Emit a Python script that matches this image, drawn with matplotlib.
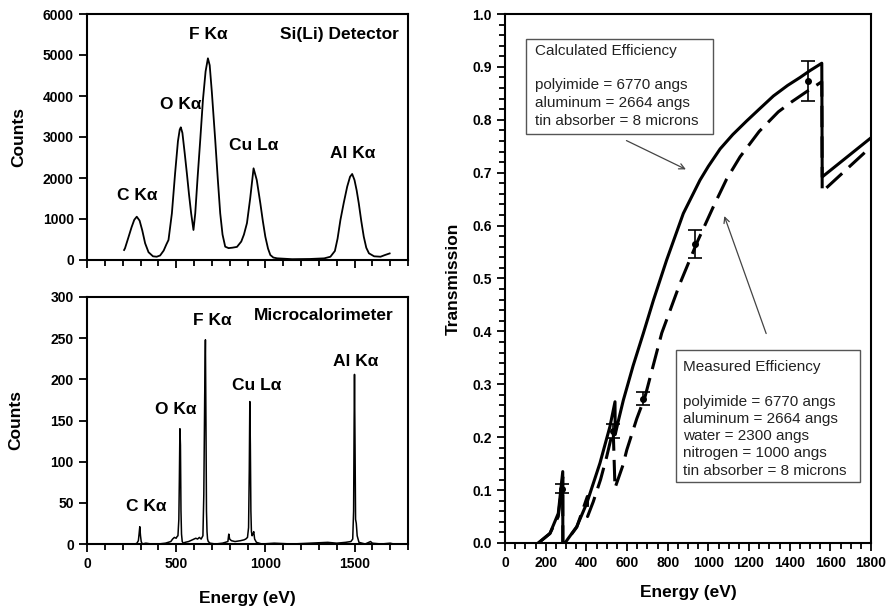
import numpy as np
import matplotlib
matplotlib.use('Agg')
import matplotlib.pyplot as plt
from matplotlib.ticker import MultipleLocator
from matplotlib.patches import Rectangle

plt.rcParams['font.family'] = ['Liberation Sans', 'DejaVu Sans']
plt.rcParams['font.weight'] = 'bold'

# --- Si(Li) detector spectrum
sili_e = [208, 213, 230, 250, 265, 279, 295, 310, 326, 345, 370, 391, 410, 430, 445,
          457, 476, 494, 510, 520, 526, 535, 548, 560, 572, 584, 597, 607, 620, 635,
          650, 665, 678, 688, 700, 719, 733, 747, 760, 775, 794, 815, 841, 865, 880,
          897, 915, 934, 952, 972, 986, 1000, 1015, 1028, 1045, 1066, 1150, 1250, 1330,
          1365, 1390, 1405, 1421, 1440, 1459, 1475, 1487, 1500, 1512, 1524, 1538, 1552,
          1566, 1581, 1610, 1646, 1670, 1697]
sili_c = [244, 285, 520, 800, 980, 1056, 960, 720, 407, 190, 90, 80, 110, 230, 380,
          488, 1138, 2114, 2900, 3180, 3236, 3100, 2600, 2114, 1600, 1138, 732, 1138, 2000, 2927,
          3900, 4600, 4919, 4750, 4100, 2927, 2000, 1138, 620, 325, 290, 300, 320, 450, 620,
          900, 1500, 2236, 1950, 1382, 950, 568, 280, 122, 60, 41, 20, 25, 40,
          80, 220, 520, 976, 1400, 1789, 2030, 2098, 1950, 1700, 1382, 950, 568,
          300, 163, 90, 80, 120, 160]

# --- microcalorimeter spectrum (bottom-left panel)
cal_e = [270, 280, 288, 292, 296, 300, 304, 310, 330, 360, 400, 440, 470, 480, 490,
         500, 505, 510, 515, 518, 521, 524, 527, 530, 534, 540, 550, 570, 590, 610,
         620, 630, 640, 650, 655, 660, 664, 667, 670, 673, 676, 680, 690, 720, 760,
         790, 795, 800, 810, 830, 860, 880, 890, 900, 906, 910, 913, 916, 919, 922,
         926, 930, 935, 940, 950, 980, 1050, 1150, 1250, 1350, 1400, 1450, 1480, 1490,
         1495, 1498, 1500, 1503, 1506, 1510, 1515, 1525, 1560, 1590, 1600, 1650, 1700, 1720]
cal_c = [0, 1, 4, 12, 21, 10, 3, 0, 1, 0, 0, 1, 3, 6, 8,
         7, 9, 10, 30, 80, 140, 120, 40, 12, 3, 1, 2, 3, 5, 7,
         6, 8, 6, 10, 60, 180, 248, 150, 40, 15, 6, 3, 1, 0, 1,
         3, 12, 6, 4, 3, 4, 5, 6, 8, 20, 90, 173, 120, 40, 15,
         10, 12, 15, 6, 2, 0, 1, 0, 1, 2, 1, 2, 3, 6,
         40, 150, 206, 120, 30, 25, 10, 2, 0, 3, 1, 0, 1, 0]

peak_names = ['C K\u03b1', 'O K\u03b1', 'F K\u03b1', 'Cu L\u03b1', 'Al K\u03b1']

# --- transmission curves (right panel)
calc_e = [164, 221, 262, 284, 284.5, 295, 353, 402, 467, 516, 541, 542, 560, 582, 630, 680, 730,
          795, 877, 959, 1000, 1058, 1120, 1189, 1250, 1320, 1390, 1451, 1500, 1558, 1560, 1800]
calc_t = [0.0, 0.018, 0.056, 0.135, 0.0, 0.0, 0.031, 0.075, 0.151, 0.22, 0.267, 0.205, 0.235,
          0.27, 0.335, 0.396, 0.459, 0.535, 0.623, 0.686, 0.712, 0.745, 0.772, 0.798, 0.82,
          0.845, 0.865, 0.88, 0.893, 0.907, 0.692, 0.766]
meas_e = [164, 221, 262, 284, 284.5, 295, 353, 405, 406, 434, 470, 500, 532, 541, 580, 599,
          648, 689, 771, 861, 943, 1025, 1090, 1156, 1250, 1344, 1410, 1490, 1558, 1560, 1800]
meas_t = [0.0, 0.018, 0.05, 0.125, 0.0, 0.0, 0.03, 0.088, 0.05, 0.078, 0.12, 0.163, 0.215,
          0.104, 0.147, 0.176, 0.235, 0.277, 0.397, 0.491, 0.567, 0.636, 0.688, 0.73, 0.778,
          0.815, 0.834, 0.855, 0.872, 0.664, 0.749]

pt_e = [279, 532, 680, 934, 1492]
pt_t = [0.103, 0.212, 0.273, 0.565, 0.873]
pt_err = [0.009, 0.013, 0.013, 0.026, 0.038]

W, H = 893, 609
fig = plt.figure(figsize=(W / 100, H / 100), dpi=100)


def px_axes(x0, y0, x1, y1):
    return fig.add_axes([x0 / W, 1 - y1 / H, (x1 - x0) / W, (y1 - y0) / H])


def style(ax):
    for s in ax.spines.values():
        s.set_linewidth(1.5)
    ax.tick_params(which='both', direction='out', width=1.3, labelsize=10)
    ax.tick_params(which='major', length=6)
    ax.tick_params(which='minor', length=4.5)


ax1 = px_axes(87, 14, 408, 260)
ax2 = px_axes(87, 297, 408, 544)
ax3 = px_axes(505, 14, 871, 543)

# top-left
ax1.plot(sili_e, sili_c, color='black', lw=1.3)
ax1.set_xlim(0, 1800)
ax1.set_ylim(0, 6000)
ax1.xaxis.set_major_locator(MultipleLocator(500))
ax1.xaxis.set_minor_locator(MultipleLocator(100))
ax1.yaxis.set_major_locator(MultipleLocator(1000))
ax1.set_xticklabels([])
style(ax1)
ax1.set_ylabel('Counts', fontsize=12.5, fontweight='bold')
ax1.yaxis.set_label_coords(-0.19, 0.5)
lab1 = [(279, 1580), (524, 3800), (681, 5500), (934, 2800), (1490, 2600)]
for name, (x, y) in zip(peak_names, lab1):
    ax1.text(x, y, name, ha='center', va='center', fontsize=12.5, fontweight='bold')
ax1.text(1750, 5500, 'Si(Li) Detector', ha='right', va='center', fontsize=12.5,
         fontweight='bold')

# bottom-left
ax2.plot(cal_e, cal_c, color='black', lw=1.1)
ax2.set_xlim(0, 1800)
ax2.set_ylim(0, 300)
ax2.xaxis.set_major_locator(MultipleLocator(500))
ax2.xaxis.set_minor_locator(MultipleLocator(100))
ax2.yaxis.set_major_locator(MultipleLocator(50))
style(ax2)
ax2.set_ylabel('Counts', fontsize=12.5, fontweight='bold')
ax2.yaxis.set_label_coords(-0.2, 0.5)
ax2.set_xlabel('Energy (eV)', fontsize=12.5, fontweight='bold')
ax2.xaxis.set_label_coords(0.5, -0.19)
lab2 = [(335, 45), (495, 163), (700, 272), (950, 193), (1505, 222)]
for name, (x, y) in zip(peak_names, lab2):
    ax2.text(x, y, name, ha='center', va='center', fontsize=12.5, fontweight='bold')
ax2.text(1720, 278, 'Microcalorimeter', ha='right', va='center', fontsize=12.5,
         fontweight='bold')

# right panel
ax3.plot(calc_e, calc_t, color='black', lw=2.2)
ax3.plot(meas_e, meas_t, color='black', lw=2.2, dashes=(7, 3))
ax3.errorbar(pt_e, pt_t, yerr=pt_err, fmt='o', color='black', ms=4, capsize=5,
             elinewidth=1.2, capthick=1.2)
ax3.set_xlim(0, 1800)
ax3.set_ylim(0, 1.0)
ax3.xaxis.set_major_locator(MultipleLocator(200))
ax3.xaxis.set_minor_locator(MultipleLocator(50))
ax3.yaxis.set_major_locator(MultipleLocator(0.1))
ax3.yaxis.set_minor_locator(MultipleLocator(0.02))
ax3.yaxis.set_major_formatter(matplotlib.ticker.FormatStrFormatter('%.1f'))
style(ax3)
ax3.set_ylabel('Transmission', fontsize=12.5, fontweight='bold')
ax3.yaxis.set_label_coords(-0.12, 0.5)
ax3.set_xlabel('Energy (eV)', fontsize=12.5, fontweight='bold')
ax3.xaxis.set_label_coords(0.5, -0.08)

txt_kw = dict(fontsize=11, fontweight='normal', color='#222222', va='center')
ax3.add_patch(Rectangle((103, 0.774), 919, 0.179, fill=False, ec='#555555', lw=1))
calc_lines = ['polyimide = 6770 angs', 'aluminum = 2664 angs', 'tin absorber = 8 microns']
ax3.text(146, 0.931, 'Calculated Efficiency', **txt_kw)
for i, s in enumerate(calc_lines):
    ax3.text(146, 0.866 - i * 0.034, s, **txt_kw)

ax3.add_patch(Rectangle((841, 0.116), 905, 0.249, fill=False, ec='#555555', lw=1))
meas_lines = ['polyimide = 6770 angs', 'aluminum = 2664 angs', 'water = 2300 angs',
              'nitrogen = 1000 angs', 'tin absorber = 8 microns']
ax3.text(875, 0.333, 'Measured Efficiency', **txt_kw)
for i, s in enumerate(meas_lines):
    ax3.text(875, 0.267 - i * 0.0325, s, **txt_kw)

ax3.annotate('', xy=(902, 0.704), xytext=(585, 0.763),
             arrowprops=dict(arrowstyle='->', color='#444444', lw=0.9))
ax3.annotate('', xy=(1074, 0.623), xytext=(1289, 0.391),
             arrowprops=dict(arrowstyle='->', color='#444444', lw=0.9))

fig.savefig('out.png', dpi=100)
